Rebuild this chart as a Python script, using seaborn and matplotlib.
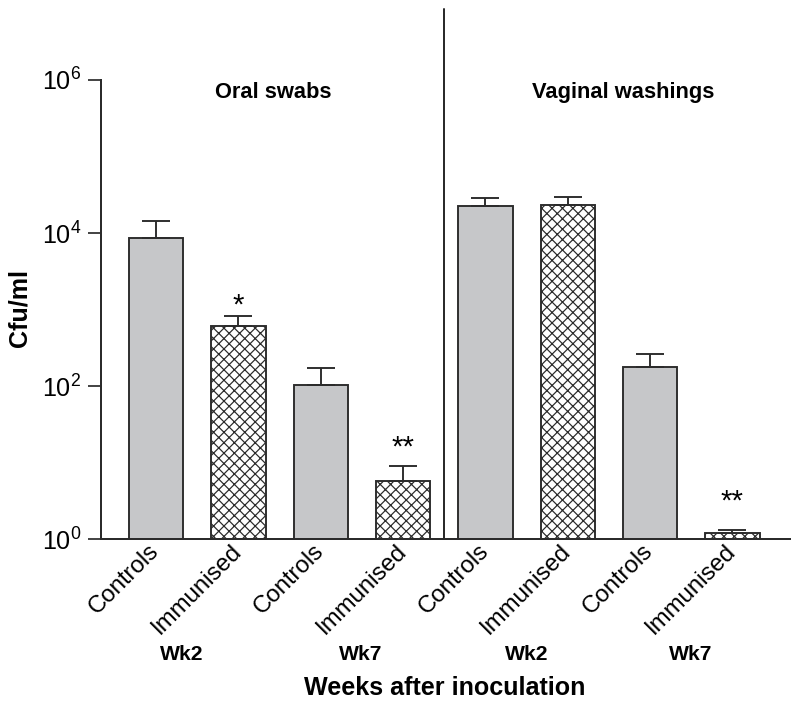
import numpy as np
import pandas as pd
import matplotlib
matplotlib.use("Agg")
import matplotlib.pyplot as plt
import seaborn as sns

# ----------------------------
# DATA
# ----------------------------
sites = ["Oral swabs"] * 4 + ["Vaginal washings"] * 4
weeks = ["Wk2", "Wk2", "Wk7", "Wk7", "Wk2", "Wk2", "Wk7", "Wk7"]
groups = ["Controls", "Immunised"] * 4
cfu_mean = [8600, 610, 103, 5.7, 22500, 23200, 178, 1.2]
cfu_upper = [14300, 820, 172, 9.0, 28700, 29500, 262, 1.31]
stars = ["", "*", "", "**", "", "", "", "**"]
star_level = [None, 1260, None, 18, None, None, None, 3.5]

df = pd.DataFrame({"site": sites, "week": weeks, "group": groups,
                   "cfu": cfu_mean, "upper": cfu_upper})
df["key"] = [f"{s}-{w}-{g}" for s, w, g in zip(sites, weeks, groups)]

sns.set_style("ticks")
plt.rcParams["font.family"] = ["Liberation Sans", "DejaVu Sans"]
plt.rcParams["mathtext.fontset"] = "custom"
plt.rcParams["mathtext.rm"] = "Liberation Sans"
plt.rcParams["mathtext.it"] = "Liberation Sans:italic"
plt.rcParams["hatch.linewidth"] = 0.7
plt.rcParams["text.color"] = "black"
plt.rcParams["xtick.color"] = "black"
plt.rcParams["ytick.color"] = "black"

ink = "#2b2b2b"
fig = plt.figure(figsize=(6.4, 5.648), dpi=125)
ax = fig.add_axes([0.12625, 0.2365, 0.86125, 0.6502])

sns.barplot(data=df, x="key", y="cfu", order=df["key"], color="#c6c7c9",
            width=0.66, saturation=1, edgecolor=ink, linewidth=1.1,
            errorbar=None, ax=ax)
ax.set_yscale("log")

for patch, g in zip(ax.patches, df["group"]):
    if g == "Immunised":
        patch.set_facecolor("white")
        patch.set_hatch("xxxx")
        if hasattr(patch, "set_hatchcolor"):
            patch.set_hatchcolor(ink)

# upper error bars only
x = np.arange(len(df))
ax.errorbar(x, df["cfu"], yerr=[np.zeros(len(df)), df["upper"] - df["cfu"]],
            fmt="none", ecolor=ink, elinewidth=1.1, capsize=8, capthick=1.1)

ax.set_ylim(1, 1e6)
ax.set_xlim(-0.668, 7.70)
ax.set_yticks([1, 1e2, 1e4, 1e6])
ax.yaxis.set_minor_locator(matplotlib.ticker.NullLocator())
ax.tick_params(axis="y", length=7.5, width=1.0, color=ink, labelsize=14.5, pad=4)
ax.tick_params(axis="x", length=0, labelsize=13.8, pad=5)
ax.set_xticks(x)
ax.set_xticklabels(df["group"], rotation=45, ha="right", va="center",
                   rotation_mode="anchor")
ax.set_xlabel("")
ax.set_ylabel("")

sns.despine(ax=ax)
for s in ["left", "bottom"]:
    ax.spines[s].set_linewidth(1.15)
    ax.spines[s].set_color(ink)

# divider between the two sample types
ax.axvline(3.5, ymin=0, ymax=1.155, color=ink, lw=1.15, clip_on=False)

# section titles
ax.text(1.42, 10 ** 5.83, "Oral swabs", ha="center", va="center",
        fontsize=12.6, fontweight="bold")
ax.text(5.67, 10 ** 5.83, "Vaginal washings", ha="center", va="center",
        fontsize=12.6, fontweight="bold")

# significance stars (ink centred on the level)
star_fs = 17
for xi, lvl, st in zip(x, star_level, stars):
    if st:
        ax.annotate(st, (xi, lvl), xytext=(0, -0.41 * star_fs),
                    textcoords="offset points", ha="center", va="baseline",
                    fontsize=star_fs)

# week labels under each pair
trans = matplotlib.transforms.blended_transform_factory(ax.transData, ax.transAxes)
week_x = [0.316, 2.49, 4.5, 6.49]
week_lbl = ["Wk2", "Wk7", "Wk2", "Wk7"]
for wx, wl in zip(week_x, week_lbl):
    ax.text(wx, -0.252, wl, transform=trans, ha="center", va="center",
            fontsize=12.2, fontweight="bold")

fig.text(0.556, 0.0255, "Weeks after inoculation", ha="center", va="center",
         fontsize=14.5, fontweight="bold")
fig.text(0.025, 0.5637, "Cfu/ml", ha="center", va="center", rotation=90,
         fontsize=14.5, fontweight="bold")

fig.savefig("out.png", dpi=125)
